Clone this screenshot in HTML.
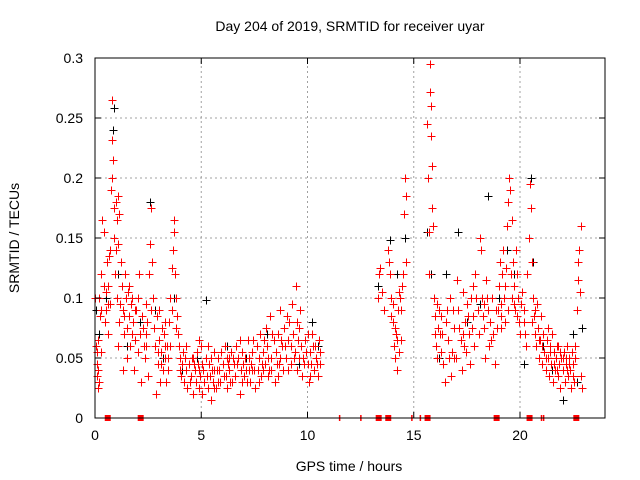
<!DOCTYPE html>
<html><head><meta charset="utf-8"><style>
body{margin:0;background:#fff;}
svg{display:block;font-family:"Liberation Sans",sans-serif;}
</style></head><body>
<svg id="chart" width="640" height="480">
<rect width="640" height="480" fill="#fff"/>
<text x="350" y="31" font-size="14" text-anchor="middle">Day 204 of 2019, SRMTID for receiver uyar</text>
<text x="349" y="471" font-size="14" text-anchor="middle">GPS time / hours</text>
<text transform="translate(19,238) rotate(-90)" font-size="14" text-anchor="middle">SRMTID / TECUs</text>
<g id="grid"></g><g id="black"></g><g id="red"></g><g id="marks"></g><g id="axes"></g>
</svg>
<script>
const xTicks=[0,5,10,15,20];
const yTicks=[0,0.05,0.1,0.15,0.2,0.25,0.3];
const yLabels=["0","0.05","0.1","0.15","0.2","0.25","0.3"];
const lockLoss=[0.6,2.15,13.35,13.8,15.65,18.9,20.45,22.65];
const lockThin=[11.5,12.5,14.9,15.3,21.0,21.1];
const blackPoints=[[0.05,0.09],[0.2,0.07],[0.5,0.1],[0.85,0.24],[0.9,0.258],[1.1,0.12],[1.5,0.06],[2.1,0.08],[2.6,0.18],[2.8,0.09],[3.2,0.05],[3.7,0.1],[4.1,0.04],[4.8,0.05],[5.2,0.098],[6.2,0.06],[7.1,0.05],[8.1,0.07],[9.0,0.05],[9.6,0.045],[10.2,0.08],[10.5,0.06],[13.3,0.11],[13.9,0.148],[14.2,0.12],[14.6,0.15],[15.6,0.155],[15.8,0.12],[16.2,0.05],[16.5,0.12],[17.1,0.155],[17.5,0.08],[18.1,0.095],[18.5,0.185],[19.0,0.1],[19.4,0.14],[19.7,0.12],[20.2,0.045],[20.5,0.2],[20.6,0.13],[21.1,0.06],[21.5,0.04],[22.0,0.015],[22.5,0.07],[22.7,0.03],[22.9,0.075]];
const redPoints=[
[0.02,0.1],[0.05,0.06],[0.08,0.035],[0.1,0.055],[0.12,0.025],[0.15,0.04],[0.18,0.03],[0.2,0.1],[0.25,0.085],[0.3,0.12],[0.35,0.165],[0.4,0.155],[0.42,0.11],[0.45,0.08],[0.5,0.09],[0.55,0.13],[0.6,0.07],[0.65,0.135],[0.7,0.14],[0.75,0.19],[0.78,0.232],[0.8,0.265],[0.82,0.2],[0.85,0.215],[0.88,0.175],[0.9,0.15],[0.95,0.12],[1.0,0.18],[1.02,0.165],[1.05,0.1],[1.08,0.145],[1.1,0.185],[1.12,0.08],[1.15,0.17],[1.2,0.13],[1.25,0.11],[1.3,0.09],[1.35,0.07],[1.4,0.12],[1.45,0.1],[1.5,0.05],[1.55,0.105],[1.6,0.085],[1.65,0.06],[1.7,0.095],[1.75,0.1],[1.8,0.08],[1.85,0.04],[1.9,0.065],[1.95,0.09],[2.0,0.055],[2.05,0.12],[2.1,0.07],[2.2,0.085],[2.3,0.06],[2.35,0.05],[2.4,0.095],[2.45,0.08],[2.5,0.035],[2.55,0.12],[2.6,0.145],[2.65,0.175],[2.7,0.13],[2.75,0.1],[2.8,0.06],[2.85,0.02],[2.9,0.085],[2.95,0.045],[3.0,0.065],[3.05,0.03],[3.1,0.055],[3.15,0.075],[3.2,0.04],[3.25,0.07],[3.3,0.05],[3.35,0.03],[3.4,0.06],[3.45,0.04],[3.5,0.08],[3.55,0.1],[3.6,0.125],[3.65,0.14],[3.7,0.165],[3.72,0.155],[3.75,0.12],[3.8,0.1],[3.85,0.085],[3.9,0.07],[3.95,0.06],[4.0,0.05],[4.05,0.035],[4.1,0.045],[4.15,0.055],[4.2,0.03],[4.3,0.04],[4.35,0.025],[4.4,0.045],[4.5,0.035],[4.55,0.05],[4.6,0.02],[4.7,0.04],[4.75,0.03],[4.8,0.055],[4.85,0.045],[4.9,0.025],[4.95,0.035],[5.0,0.06],[5.05,0.02],[5.1,0.04],[5.15,0.03],[5.2,0.05],[5.3,0.025],[5.35,0.045],[5.4,0.035],[5.45,0.015],[5.5,0.04],[5.55,0.03],[5.6,0.055],[5.7,0.025],[5.75,0.04],[5.8,0.05],[5.9,0.03],[6.0,0.045],[6.05,0.035],[6.1,0.06],[6.2,0.025],[6.25,0.045],[6.3,0.04],[6.4,0.055],[6.45,0.03],[6.5,0.05],[6.6,0.035],[6.65,0.06],[6.7,0.045],[6.8,0.02],[6.85,0.04],[6.9,0.055],[7.0,0.035],[7.05,0.05],[7.1,0.04],[7.2,0.065],[7.3,0.03],[7.35,0.045],[7.4,0.055],[7.5,0.04],[7.55,0.025],[7.6,0.06],[7.7,0.05],[7.75,0.07],[7.8,0.035],[7.9,0.055],[8.0,0.045],[8.05,0.075],[8.1,0.06],[8.2,0.04],[8.25,0.085],[8.3,0.05],[8.4,0.065],[8.45,0.03],[8.5,0.055],[8.6,0.07],[8.65,0.045],[8.7,0.09],[8.8,0.06],[8.85,0.04],[8.9,0.075],[9.0,0.05],[9.05,0.085],[9.1,0.065],[9.2,0.045],[9.25,0.095],[9.3,0.07],[9.4,0.055],[9.45,0.11],[9.5,0.04],[9.6,0.075],[9.7,0.06],[9.75,0.035],[9.8,0.05],[9.9,0.065],[10.0,0.045],[10.05,0.03],[10.1,0.055],[10.2,0.07],[10.3,0.04],[10.35,0.06],[10.4,0.05],[10.5,0.035],[10.55,0.065],[10.6,0.045],
[13.3,0.1],[13.35,0.12],[13.4,0.125],[13.5,0.105],[13.6,0.09],[13.8,0.14],[13.85,0.13],[13.9,0.12],[13.95,0.1],[14.0,0.08],[14.05,0.06],[14.1,0.05],[14.15,0.07],[14.2,0.04],[14.25,0.09],[14.3,0.105],[14.35,0.1],[14.4,0.065],[14.45,0.11],[14.5,0.12],[14.55,0.17],[14.6,0.2],[14.62,0.185],[14.65,0.13],[15.6,0.245],[15.65,0.2],[15.7,0.155],[15.72,0.12],[15.75,0.295],[15.78,0.272],[15.8,0.26],[15.82,0.235],[15.85,0.21],[15.88,0.175],[15.9,0.16],[15.95,0.1],[16.0,0.085],[16.05,0.06],[16.1,0.095],[16.15,0.075],[16.2,0.09],[16.3,0.055],[16.35,0.07],[16.4,0.045],[16.45,0.03],[16.5,0.08],[16.6,0.065],[16.7,0.1],[16.75,0.035],[16.8,0.055],[16.9,0.075],[17.0,0.05],[17.05,0.115],[17.1,0.09],[17.2,0.065],[17.25,0.04],[17.3,0.105],[17.4,0.08],[17.45,0.055],[17.5,0.095],[17.6,0.07],[17.65,0.045],[17.7,0.1],[17.8,0.085],[17.85,0.06],[17.9,0.12],[18.0,0.09],[18.05,0.07],[18.1,0.15],[18.15,0.14],[18.2,0.1],[18.3,0.075],[18.35,0.05],[18.4,0.115],[18.5,0.09],[18.55,0.06],[18.6,0.08],[18.7,0.1],[18.75,0.07],[18.8,0.045],[18.85,0.09],[18.9,0.075],[19.0,0.11],[19.05,0.13],[19.1,0.095],[19.15,0.12],[19.2,0.14],[19.25,0.1],[19.3,0.08],[19.35,0.125],[19.4,0.16],[19.45,0.18],[19.5,0.2],[19.55,0.19],[19.6,0.165],[19.65,0.13],[19.7,0.11],[19.75,0.09],[19.8,0.14],[19.85,0.12],[19.9,0.1],[19.95,0.08],[20.0,0.07],[20.1,0.105],[20.2,0.09],[20.3,0.06],[20.35,0.12],[20.4,0.15],[20.45,0.195],[20.5,0.175],[20.55,0.13],[20.6,0.1],[20.65,0.085],[20.7,0.07],[20.75,0.06],[20.8,0.095],[20.85,0.075],[20.9,0.05],[20.95,0.065],[21.0,0.085],[21.05,0.045],[21.1,0.07],[21.15,0.055],[21.2,0.04],[21.25,0.065],[21.3,0.05],[21.35,0.035],[21.4,0.06],[21.45,0.045],[21.5,0.07],[21.55,0.03],[21.6,0.055],[21.65,0.04],[21.7,0.05],[21.75,0.06],[21.8,0.035],[21.85,0.045],[21.9,0.025],[21.95,0.05],[22.0,0.04],[22.05,0.055],[22.1,0.03],[22.15,0.045],[22.2,0.06],[22.25,0.035],[22.3,0.05],[22.35,0.04],[22.4,0.025],[22.45,0.055],[22.5,0.045],[22.55,0.03],[22.6,0.06],[22.7,0.09],[22.72,0.115],[22.75,0.13],[22.78,0.14],[22.8,0.105],[22.85,0.16],[22.88,0.035],[22.9,0.025],
[0.3,0.055],[0.6,0.11],[0.7,0.095],[1.1,0.06],[1.3,0.04],[1.6,0.11],[2.15,0.03],[2.4,0.06],[3.0,0.09],[3.3,0.08],[3.55,0.06],[4.6,0.05],[5.3,0.06],[5.8,0.03],[6.3,0.05],[6.9,0.03],[7.4,0.04],[7.9,0.04],[8.3,0.04],[8.7,0.05],[9.2,0.06],[9.6,0.05],[10.1,0.035],[16.3,0.085],[16.9,0.05],[17.3,0.07],[17.8,0.11],[18.3,0.095],[19.1,0.075],[19.6,0.1],[20.2,0.08],[21.3,0.075],[21.8,0.06],[22.2,0.04]
];
const redExtra=[
[0.1,0.045],[0.15,0.065],[0.28,0.09],[0.52,0.105],[0.62,0.095],[0.98,0.14],[1.18,0.095],[1.38,0.085],[1.52,0.075],[1.72,0.07],[1.88,0.09],[2.02,0.1],[2.25,0.075],[2.42,0.07],[2.62,0.09],[2.78,0.075],[2.98,0.055],[3.12,0.045],[3.28,0.06],[3.42,0.05],[3.62,0.09],[3.82,0.075],[3.98,0.04],
[4.25,0.05],[4.45,0.03],[4.65,0.045],[4.88,0.04],[5.02,0.045],[5.25,0.035],[5.48,0.05],[5.62,0.025],[5.85,0.04],[5.95,0.055],[6.15,0.035],[6.35,0.03],[6.55,0.045],[6.75,0.05],[6.95,0.045],[7.15,0.03],[7.25,0.05],[7.45,0.065],[7.65,0.04],[7.85,0.045],[7.95,0.065],[8.15,0.05],[8.35,0.07],[8.55,0.045],[8.75,0.065],[8.95,0.06],[9.15,0.08],[9.35,0.05],[9.55,0.065],[9.65,0.09],[9.85,0.045],[9.95,0.055],[10.15,0.045],[10.25,0.06],[10.45,0.045],[10.58,0.055],
[4.3,0.06],[4.9,0.065],[5.6,0.04],[6.2,0.05],[6.8,0.065],[7.25,0.04],[7.7,0.03],[8.15,0.035],[8.6,0.035],[9.1,0.04],[9.5,0.08],[10.0,0.07],
[13.92,0.085],[14.02,0.095],[14.12,0.075],[14.22,0.065],[14.32,0.055],[14.42,0.09],[15.98,0.07],[16.08,0.05],[16.25,0.07],[16.55,0.09],[16.65,0.05],[16.85,0.09],[17.15,0.075],[17.35,0.06],[17.55,0.085],[17.75,0.075],[17.95,0.1],[18.25,0.085],[18.45,0.1],[18.65,0.065],[18.95,0.09],[19.12,0.085],[19.28,0.11],[19.42,0.09],[19.58,0.12],[19.72,0.095],[19.88,0.085],[20.05,0.095],[20.25,0.07],[20.58,0.08],[20.72,0.09],[20.88,0.065],[21.02,0.06],[21.22,0.05],[21.42,0.055],[21.58,0.045],[21.72,0.04],[21.88,0.055],[22.02,0.05],[22.18,0.05],[22.32,0.045],[22.48,0.035],[22.58,0.05]
];
const NS="http://www.w3.org/2000/svg";
const X0=95,X1=605,Y0=418,Y1=58;
function xs(h){return X0+(h/24)*(X1-X0);}
function ys(v){return Y0-(v/0.3)*(Y0-Y1);}
function mk(tag,attrs,parent){const e=document.createElementNS(NS,tag);for(const k in attrs)e.setAttribute(k,attrs[k]);parent.appendChild(e);return e;}
const grid=document.getElementById('grid'),axes=document.getElementById('axes');
xTicks.forEach(t=>{
  if(t>0){const g=mk('line',{x1:xs(t),x2:xs(t),y1:Y0,y2:Y1,stroke:'#a0a0a0','stroke-dasharray':'2,3'},grid);
  
  }
  mk('line',{x1:xs(t),x2:xs(t),y1:Y0,y2:Y0-6,stroke:'#000'},axes);
  mk('line',{x1:xs(t),x2:xs(t),y1:Y1,y2:Y1+6,stroke:'#000'},axes);
  const l=mk('text',{x:xs(t),y:Y0+22,'font-size':14,'text-anchor':'middle'},axes);
  l.textContent=t;
  
  
});
yTicks.forEach((t,i)=>{
  if(t>0&&t<0.3){const g=mk('line',{x1:X0,x2:X1,y1:ys(t),y2:ys(t),stroke:'#a0a0a0','stroke-dasharray':'2,3'},grid);
  
  }
  mk('line',{x1:X0,x2:X0+6,y1:ys(t),y2:ys(t),stroke:'#000'},axes);
  mk('line',{x1:X1,x2:X1-6,y1:ys(t),y2:ys(t),stroke:'#000'},axes);
  const l=mk('text',{x:X0-12,y:ys(t)+5,'font-size':14,'text-anchor':'end'},axes);
  l.textContent=yLabels[i];
  
  
});
const frame=mk('rect',{x:X0,y:Y1,width:X1-X0,height:Y0-Y1,fill:'none',stroke:'#000'},axes);


function plus(parent,p,color,name){
  const x=Math.round(xs(p[0]))+0.5,y=Math.round(ys(p[1]))+0.5;
  const e=mk('path',{d:`M${x-4} ${y}H${x+4}M${x} ${y-4}V${y+4}`,stroke:color,'stroke-width':1,fill:'none'},parent);
  
  
}
blackPoints.forEach(p=>plus(document.getElementById('black'),p,'#000','srmtid-point-black'));
redPoints.forEach(p=>plus(document.getElementById('red'),p,'#f00','srmtid-point-red'));
redExtra.forEach(p=>plus(document.getElementById('red'),p,'#f00','srmtid-point-red'));
const marks=document.getElementById('marks');
lockLoss.forEach(h=>{
  const r=mk('rect',{x:xs(h)-3,y:Y0-3,width:6,height:6,fill:'#f00'},marks);
  
  
});
lockThin.forEach(h=>{
  const r=mk('rect',{x:xs(h)-0.5,y:Y0-3,width:1.5,height:6,fill:'#f00'},marks);
  
  
});
</script>
</body></html>
